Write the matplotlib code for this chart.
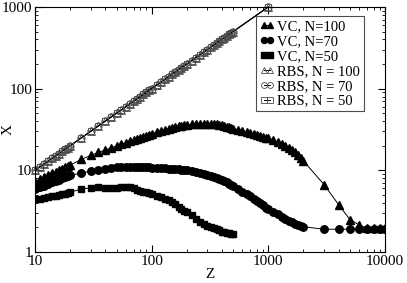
import matplotlib
matplotlib.use('Agg')
import matplotlib.pyplot as plt

plt.rcParams['font.family'] = ['Liberation Serif', 'DejaVu Serif']

# Z values of the dense part (same grid for every series)
z_vc = [10, 11, 12, 13, 14, 15, 16, 17, 18, 19,
        20, 25, 30, 35, 40, 45, 50, 55, 60, 65, 70, 75, 80, 85, 90, 95,
        100, 110, 120, 130, 140, 150, 160, 170, 180, 190,
        200, 220, 240, 260, 280, 300, 320, 340, 360, 380, 400, 420, 440, 460, 480,
        500, 550, 600, 650, 700, 750, 800, 850, 900, 950,
        1000, 1100, 1200, 1300, 1400, 1500, 1600, 1700, 1800, 1900, 2000,
        3000, 4000, 5000, 6000, 7000, 8000, 9000, 10000]

# VC, N=100 (filled triangles)
x_vc100 = [7.25, 7.75, 8.2, 8.7, 9.15, 9.6, 10.0, 10.45, 10.85, 11.2,
           11.6, 13.6, 15.2, 16.6, 17.7, 18.8, 20.0, 20.9, 21.8, 22.6, 23.3, 24.0, 24.8, 25.6, 26.4, 27.2,
           28.0, 29.2, 30.3, 31.3, 32.3, 33.2, 34.0, 34.6, 35.2, 35.6,
           36.0, 36.4, 36.7, 36.9, 37.0, 37.0, 37.0, 36.8, 36.5, 36.0, 35.4, 34.8, 34.1, 33.5, 32.9,
           32.5, 31.4, 30.3, 29.5, 28.5, 27.6, 26.8, 26.0, 25.3, 24.9,
           24.6, 23.5, 22.3, 21.1, 20.0, 18.9, 17.8, 16.7, 15.5, 14.3, 13.0,
           6.7, 3.8, 2.5, 2.15, 1.95, 1.95, 1.95, 1.95]

# VC, N=70 (filled circles)
x_vc70 = [5.85, 6.2, 6.5, 6.8, 7.1, 7.4, 7.7, 7.95, 8.25, 8.5,
          8.75, 9.2, 9.8, 10.1, 10.3, 10.6, 10.9, 11.0, 11.1, 11.1, 11.1, 11.1, 11.0, 11.0, 10.9, 10.9,
          10.8, 10.8, 10.7, 10.6, 10.5, 10.4, 10.3, 10.25, 10.2, 10.1,
          10.0, 9.8, 9.6, 9.3, 9.0, 8.8, 8.6, 8.4, 8.1, 7.9, 7.6, 7.3, 7.1, 6.8, 6.6,
          6.4, 5.95, 5.5, 5.15, 4.8, 4.5, 4.25, 4.0, 3.75, 3.5,
          3.35, 3.1, 2.9, 2.7, 2.55, 2.42, 2.32, 2.22, 2.15, 2.09, 2.04,
          1.9, 1.9, 1.9, 1.9, 1.9, 1.9, 1.9, 1.9]

# VC, N=50 (filled squares), stops at Z=500
z_vc50 = z_vc[:52]
x_vc50 = [4.4, 4.5, 4.6, 4.7, 4.8, 4.9, 5.0, 5.1, 5.2, 5.3,
          5.4, 5.9, 6.1, 6.2, 6.1, 6.0, 6.1, 6.3, 6.3, 6.2, 6.0, 5.8, 5.6, 5.5, 5.4, 5.3,
          5.2, 4.9, 4.65, 4.45, 4.3, 4.1, 3.85, 3.6, 3.4, 3.2,
          3.05, 2.8, 2.55, 2.35, 2.2, 2.1, 2.0, 1.95, 1.9, 1.85, 1.78, 1.74, 1.71, 1.69, 1.67,
          1.65]

# RBS, all three N lie on X = Z
z_rbs = [10, 11, 12, 13, 14, 15, 16, 17, 18, 19,
         20, 25, 30, 35, 40, 45, 50, 55, 60, 65, 70, 75, 80, 85, 90, 95,
         100, 110, 120, 130, 140, 150, 160, 170, 180, 190,
         200, 220, 240, 260, 280, 300, 320, 340, 360, 380, 400, 420, 440, 460, 480,
         500, 1000]
x_rbs = [10, 11, 12, 13, 14, 15, 16, 17, 18, 19,
         20, 25, 30, 35, 40, 45, 50, 55, 60, 65, 70, 75, 80, 85, 90, 95,
         100, 110, 120, 130, 140, 150, 160, 170, 180, 190,
         200, 220, 240, 260, 280, 300, 320, 340, 360, 380, 400, 420, 440, 460, 480,
         500, 1000]

fig = plt.figure(figsize=(4.07, 2.83), dpi=100)
ax = fig.add_axes([0.086, 0.1095, 0.86, 0.866])

lw = 0.7
ax.plot(z_vc, x_vc100, color='black', lw=lw, marker='^', ms=5.8, mec='black', mfc='black', label='VC, N=100')
ax.plot(z_vc, x_vc70, color='black', lw=lw, marker='o', ms=5.4, mec='black', mfc='black', label='VC, N=70')
ax.plot(z_vc50, x_vc50, color='black', lw=lw, marker='s', ms=4.8, mec='black', mfc='black', label='VC, N=50')
ax.plot(z_rbs, x_rbs, color='black', lw=lw, marker='^', ms=5.5, mec='0.3', mfc='none', mew=0.6,
        label='RBS, N = 100', clip_on=False)
ax.plot(z_rbs, x_rbs, color='black', lw=lw, marker='o', ms=5.3, mec='0.3', mfc='none', mew=0.6,
        label='RBS, N = 70', clip_on=False)
ax.plot(z_rbs, x_rbs, color='black', lw=lw, marker='s', ms=4.8, mec='0.3', mfc='none', mew=0.6,
        label='RBS, N = 50', clip_on=False)

ax.set_xscale('log')
ax.set_yscale('log')
ax.set_xlim(10, 10000)
ax.set_ylim(1, 1000)
ax.set_xticks([10, 100, 1000, 10000])
ax.set_xticklabels(['10', '100', '1000', '10000'])
ax.set_yticks([1, 10, 100, 1000])
ax.set_yticklabels(['1', '10', '100', '1000'])
ax.tick_params(which='both', direction='in', top=True, right=True, labelsize=11, pad=2)
ax.tick_params(which='major', length=5, width=0.8)
ax.tick_params(which='minor', length=2.5, width=0.6)
ax.set_xlabel('Z', fontsize=11, labelpad=0)
ax.set_ylabel('X', fontsize=11)
ax.yaxis.set_label_coords(-0.057, 0.5)

leg = ax.legend(loc='upper right', bbox_to_anchor=(0.94, 0.963), borderaxespad=0, fontsize=10.5,
                numpoints=2, handlelength=1.0, handletextpad=0.2, labelspacing=0.12,
                borderpad=0.25, fancybox=False, framealpha=1, edgecolor='0.3', markerscale=0.8)
leg.get_frame().set_linewidth(0.8)

plt.savefig('out.png', dpi=100)
plt.close()
